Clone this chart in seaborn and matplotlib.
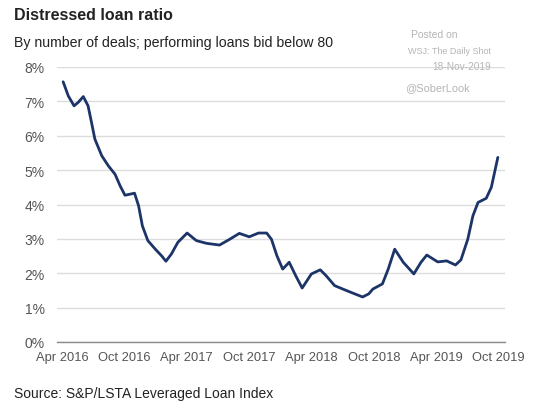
import matplotlib
matplotlib.use("Agg")
import matplotlib.pyplot as plt
import matplotlib.transforms as mtrans
import seaborn as sns
import pandas as pd

dates = ["2016-04-19", "2016-05-04", "2016-05-21", "2016-06-02", "2016-06-17",
         "2016-07-01", "2016-07-11", "2016-07-21", "2016-08-10", "2016-08-29",
         "2016-09-18", "2016-10-03", "2016-10-17", "2016-11-01", "2016-11-14",
         "2016-11-26", "2016-12-07", "2016-12-23", "2017-01-14", "2017-02-01",
         "2017-02-14", "2017-03-02", "2017-03-21", "2017-04-17", "2017-05-14",
         "2017-06-13", "2017-07-21", "2017-08-20", "2017-09-17", "2017-10-16",
         "2017-11-12", "2017-12-06", "2017-12-20", "2018-01-05", "2018-01-22",
         "2018-02-10", "2018-03-01", "2018-03-20", "2018-04-16", "2018-05-12",
         "2018-05-29", "2018-06-23", "2018-07-22", "2018-08-21", "2018-09-13",
         "2018-10-01", "2018-10-13", "2018-11-10", "2018-11-27", "2018-12-16",
         "2019-01-10", "2019-02-10", "2019-03-03", "2019-03-20", "2019-04-21",
         "2019-05-17", "2019-06-12", "2019-06-28", "2019-07-18", "2019-08-02",
         "2019-08-17", "2019-09-10", "2019-09-25", "2019-10-14"]
values = [7.57, 7.16, 6.87, 6.97, 7.14,
          6.87, 6.39, 5.90, 5.42, 5.13,
          4.88, 4.54, 4.27, 4.30, 4.33,
          3.96, 3.38, 2.95, 2.70, 2.51,
          2.35, 2.56, 2.90, 3.17, 2.95,
          2.87, 2.82, 2.99, 3.16, 3.06,
          3.17, 3.17, 2.99, 2.51, 2.12,
          2.32, 1.93, 1.57, 1.98, 2.10,
          1.93, 1.64, 1.52, 1.40, 1.31,
          1.40, 1.54, 1.69, 2.12, 2.70,
          2.32, 1.98, 2.32, 2.53, 2.33,
          2.36, 2.24, 2.39, 2.99, 3.67,
          4.06, 4.18, 4.50, 5.37]
tick_dates = ["2016-04-01", "2016-10-01", "2017-04-01", "2017-10-01",
              "2018-04-01", "2018-10-01", "2019-04-01", "2019-10-01"]
tick_labels = ["Apr 2016", "Oct 2016", "Apr 2017", "Oct 2017",
               "Apr 2018", "Oct 2018", "Apr 2019", "Oct 2019"]
y_ticks = [0, 1, 2, 3, 4, 5, 6, 7, 8]

df = pd.DataFrame({"date": pd.to_datetime(dates), "value": values})

sns.set_style("white")
plt.rcParams["font.family"] = ["Liberation Sans", "DejaVu Sans"]

fig = plt.figure(figsize=(5.41, 4.10), dpi=100)
ax = fig.add_axes([57/541, 1-343/410, (505-57)/541, (343-68)/410])

sns.lineplot(data=df, x="date", y="value", ax=ax, color="#1c3468",
             linewidth=2.0, solid_joinstyle="round", solid_capstyle="round")

ax.set_ylim(0, 8)
ax.set_xlim(pd.Timestamp("2016-04-01"), pd.Timestamp("2019-11-04"))
ax.set_yticks(y_ticks)
ax.set_yticklabels([f"{v}%" for v in y_ticks])
ax.set_xticks(pd.to_datetime(tick_dates))
ax.set_xticklabels(tick_labels)
ax.set_xlabel("")
ax.set_ylabel("")

ax.grid(axis="y", color="#dcdcdc", linewidth=1.0)
ax.grid(axis="x", visible=False)
ax.set_axisbelow(True)
for s in ["top", "right", "left"]:
    ax.spines[s].set_visible(False)
ax.spines["bottom"].set_color("#8a8a8a")
ax.spines["bottom"].set_linewidth(1.0)
ax.tick_params(axis="y", length=0, pad=9, labelsize=10, labelcolor="#555555")
ax.tick_params(axis="x", direction="inout", length=7, width=1.0, color="#8a8a8a",
               pad=3, labelsize=9.3, labelcolor="#555555")
shift = mtrans.ScaledTranslation(5/100, 0, fig.dpi_scale_trans)
for lab in ax.get_xticklabels():
    lab.set_transform(lab.get_transform() + shift)

fig.text(14/541, 1-20/410, "Distressed loan ratio", fontsize=11.5, fontweight="bold",
         color="#222222", va="baseline", ha="left")
fig.text(14/541, 1-47/410, "By number of deals; performing loans bid below 80",
         fontsize=10.2, color="#222222", va="baseline", ha="left")
fig.text(14/541, 1-398/410, "Source: S&P/LSTA Leveraged Loan Index",
         fontsize=10, color="#222222", va="baseline", ha="left")

wm = "#b5b5b5"
fig.text(458/541, 1-38/410, "Posted on", fontsize=7.5, color=wm, ha="right", va="baseline")
fig.text(491/541, 1-54/410, "WSJ: The Daily Shot", fontsize=6.5, color=wm, ha="right", va="baseline")
fig.text(491/541, 1-70/410, "18-Nov-2019", fontsize=7.3, color=wm, ha="right", va="baseline")
fig.text(470/541, 1-91/410, "@SoberLook", fontsize=7.9, color=wm, ha="right", va="baseline")

fig.savefig("out.png", dpi=100, facecolor="white")
